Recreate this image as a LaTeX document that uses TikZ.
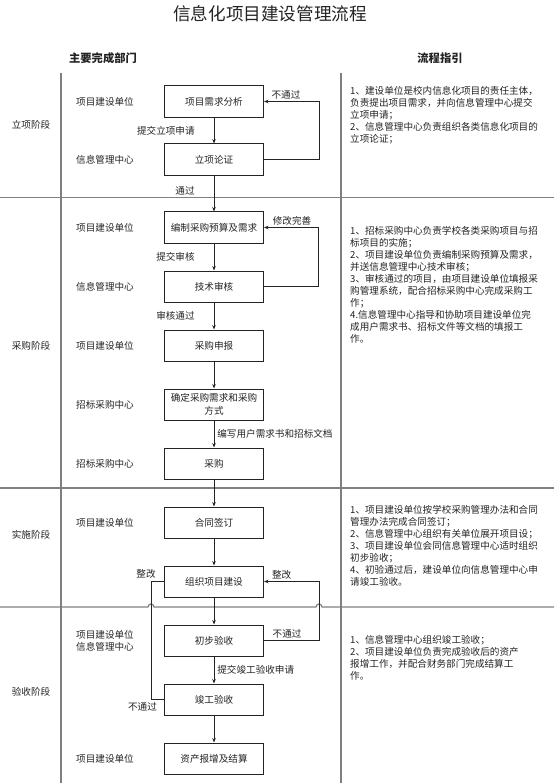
\documentclass[tikz,border=0pt]{standalone}
\usepackage{fontspec}
\setmainfont{Noto Sans CJK SC}
\usetikzlibrary{positioning, arrows.meta}
\definecolor{rule}{RGB}{128,128,128}
\definecolor{ink}{RGB}{35,35,35}
\newcommand{\smallcn}{\fontsize{9.6}{12}\selectfont}

\begin{document}
\begin{tikzpicture}[
  x=1pt, y=-1pt,
  node distance=27pt,
  box/.style={draw=ink, line width=0.8pt, fill=white, minimum width=99.2pt, minimum height=31.2pt,
              inner sep=2pt, align=center, font=\fontsize{9.6}{13}\selectfont, text=ink},
  dept/.style={align=center, font=\smallcn, text=ink, inner sep=1pt},
  lab/.style={font=\smallcn, text=ink, inner sep=1pt},
  guide/.style={anchor=north west, align=left, font=\smallcn, text=ink, inner sep=0pt},
  divider/.style={draw=rule, line width=1.2pt},
  arrow/.style={-{Stealth[length=4.5pt, width=3.5pt]}, draw=ink, line width=0.7pt},
  link/.style={draw=ink, line width=0.7pt},
]
\useasboundingbox (0,0) rectangle (554,783);

% frame
\draw[divider] (61,73) -- (61,783);
\draw[divider] (341,73) -- (341,783);
\draw[divider] (0,197.5) -- (554,197.5);
\draw[divider] (0,488) -- (554,488);
\draw[divider] (0,607) -- (148,607) arc[start angle=180, end angle=360, radius=3]
  -- (316,607) arc[start angle=180, end angle=360, radius=3] -- (554,607);

% headings
\node[font=\fontsize{17.6}{20}\selectfont, text=ink] (title) at (270,14) {信息化项目建设管理流程};
\node[font=\bfseries\fontsize{11.3}{13}\selectfont, text=ink] (hdept) at (103,58) {主要完成部门};
\node[font=\bfseries\fontsize{11.3}{13}\selectfont, text=ink] (hguide) at (440,58) {流程指引};

% stages
\node[dept] (s1) at (31,125) {立项阶段};
\node[dept] (s2) at (31,346) {采购阶段};
\node[dept] (s3) at (31,535) {实施阶段};
\node[dept] (s4) at (31,692) {验收阶段};

% process boxes
\node[box] (need) at (214,101.5) {项目需求分析};
\node[box, below=26pt of need] (prove) {立项论证};
\node[box, below=36pt of prove] (budget) {编制采购预算及需求};
\node[box, below=of budget] (review) {技术审核};
\node[box, below=of review] (apply) {采购申报};
\node[box, below=of apply] (method) {确定采购需求和采购\\方式};
\node[box, below=of method] (buy) {采购};
\node[box, below=of buy] (sign) {合同签订};
\node[box, below=of sign] (build) {组织项目建设};
\node[box, below=of build] (check) {初步验收};
\node[box, below=of check] (accept) {竣工验收};
\node[box, below=of accept] (settle) {资产报增及结算};

% departments
\node[dept, left=29pt of need] (d1) {项目建设单位};
\node[dept, left=29pt of prove] (d2) {信息管理中心};
\node[dept, left=29pt of budget] (d3) {项目建设单位};
\node[dept, left=29pt of review] (d4) {信息管理中心};
\node[dept, left=29pt of apply] (d5) {项目建设单位};
\node[dept, left=29pt of method] (d6) {招标采购中心};
\node[dept, left=29pt of buy] (d7) {招标采购中心};
\node[dept, left=29pt of sign] (d8) {项目建设单位};
\node[dept, left=29pt of check] (d9) {项目建设单位\\信息管理中心};
\node[dept, left=29pt of settle] (d10) {项目建设单位};

% main flow
\draw[arrow] (need) -- node[lab, left=18pt] {提交立项申请} (prove);
\draw[arrow] (prove) -- node[lab, left=18pt, yshift=3pt] {通过} (budget);
\draw[arrow] (budget) -- node[lab, left=18pt] {提交审核} (review);
\draw[arrow] (review) -- node[lab, left=18pt] {审核通过} (apply);
\draw[arrow] (apply) -- (method);
\draw[arrow] (method) -- node[lab, right=2pt] {编写用户需求书和招标文档} (buy);
\draw[arrow] (buy) -- (sign);
\draw[arrow] (sign) -- (build);
\draw[arrow] (build) -- (check);
\draw[arrow] (check) -- node[lab, right=2pt] {提交竣工验收申请} (accept);
\draw[arrow] (accept) -- (settle);

% feedback loops
\draw[arrow] (prove.east) -- ++(55,0) |- node[lab, pos=.8, above=1pt] {不通过} (need.east);
\draw[arrow] (review.east) -- ++(54,0) |- node[lab, pos=.74, above=1pt] {修改完善} (budget.east);
\draw[arrow] (check.east) -- node[lab, pos=.42, above=1pt] {不通过} ++(55,0) |- node[lab, pos=.84, above=1pt] {整改} (build.east);
\draw[link] (accept.west) -- node[lab, below=2pt, xshift=-15pt] {不通过} ++(-13,0) |- node[lab, pos=.5, above=2pt, xshift=-5pt] {整改} (build.west);

% guidance
\node[guide] (g1) at (350,86) {1、建设单位是校内信息化项目的责任主体，\\
负责提出项目需求，并向信息管理中心提交\\
立项申请；\\
2、信息管理中心负责组织各类信息化项目的\\
立项论证；};
\node[guide] (g2) at (350,226) {1、招标采购中心负责学校各类采购项目与招\\
标项目的实施；\\
2、项目建设单位负责编制采购预算及需求，\\
并送信息管理中心技术审核；\\
3、审核通过的项目，由项目建设单位填报采\\
购管理系统，配合招标采购中心完成采购工\\
作；\\
4.信息管理中心指导和协助项目建设单位完\\
成用户需求书、招标文件等文档的填报工\\
作。};
\node[guide] (g3) at (350,505) {1、项目建设单位按学校采购管理办法和合同\\
管理办法完成合同签订；\\
2、信息管理中心组织有关单位展开项目设；\\
3、项目建设单位会同信息管理中心适时组织\\
初步验收；\\
4、初验通过后，建设单位向信息管理中心申\\
请竣工验收。};
\node[guide] (g4) at (350,635) {1、信息管理中心组织竣工验收；\\
2、项目建设单位负责完成验收后的资产\\
报增工作，并配合财务部门完成结算工\\
作。};
\end{tikzpicture}
\end{document}
